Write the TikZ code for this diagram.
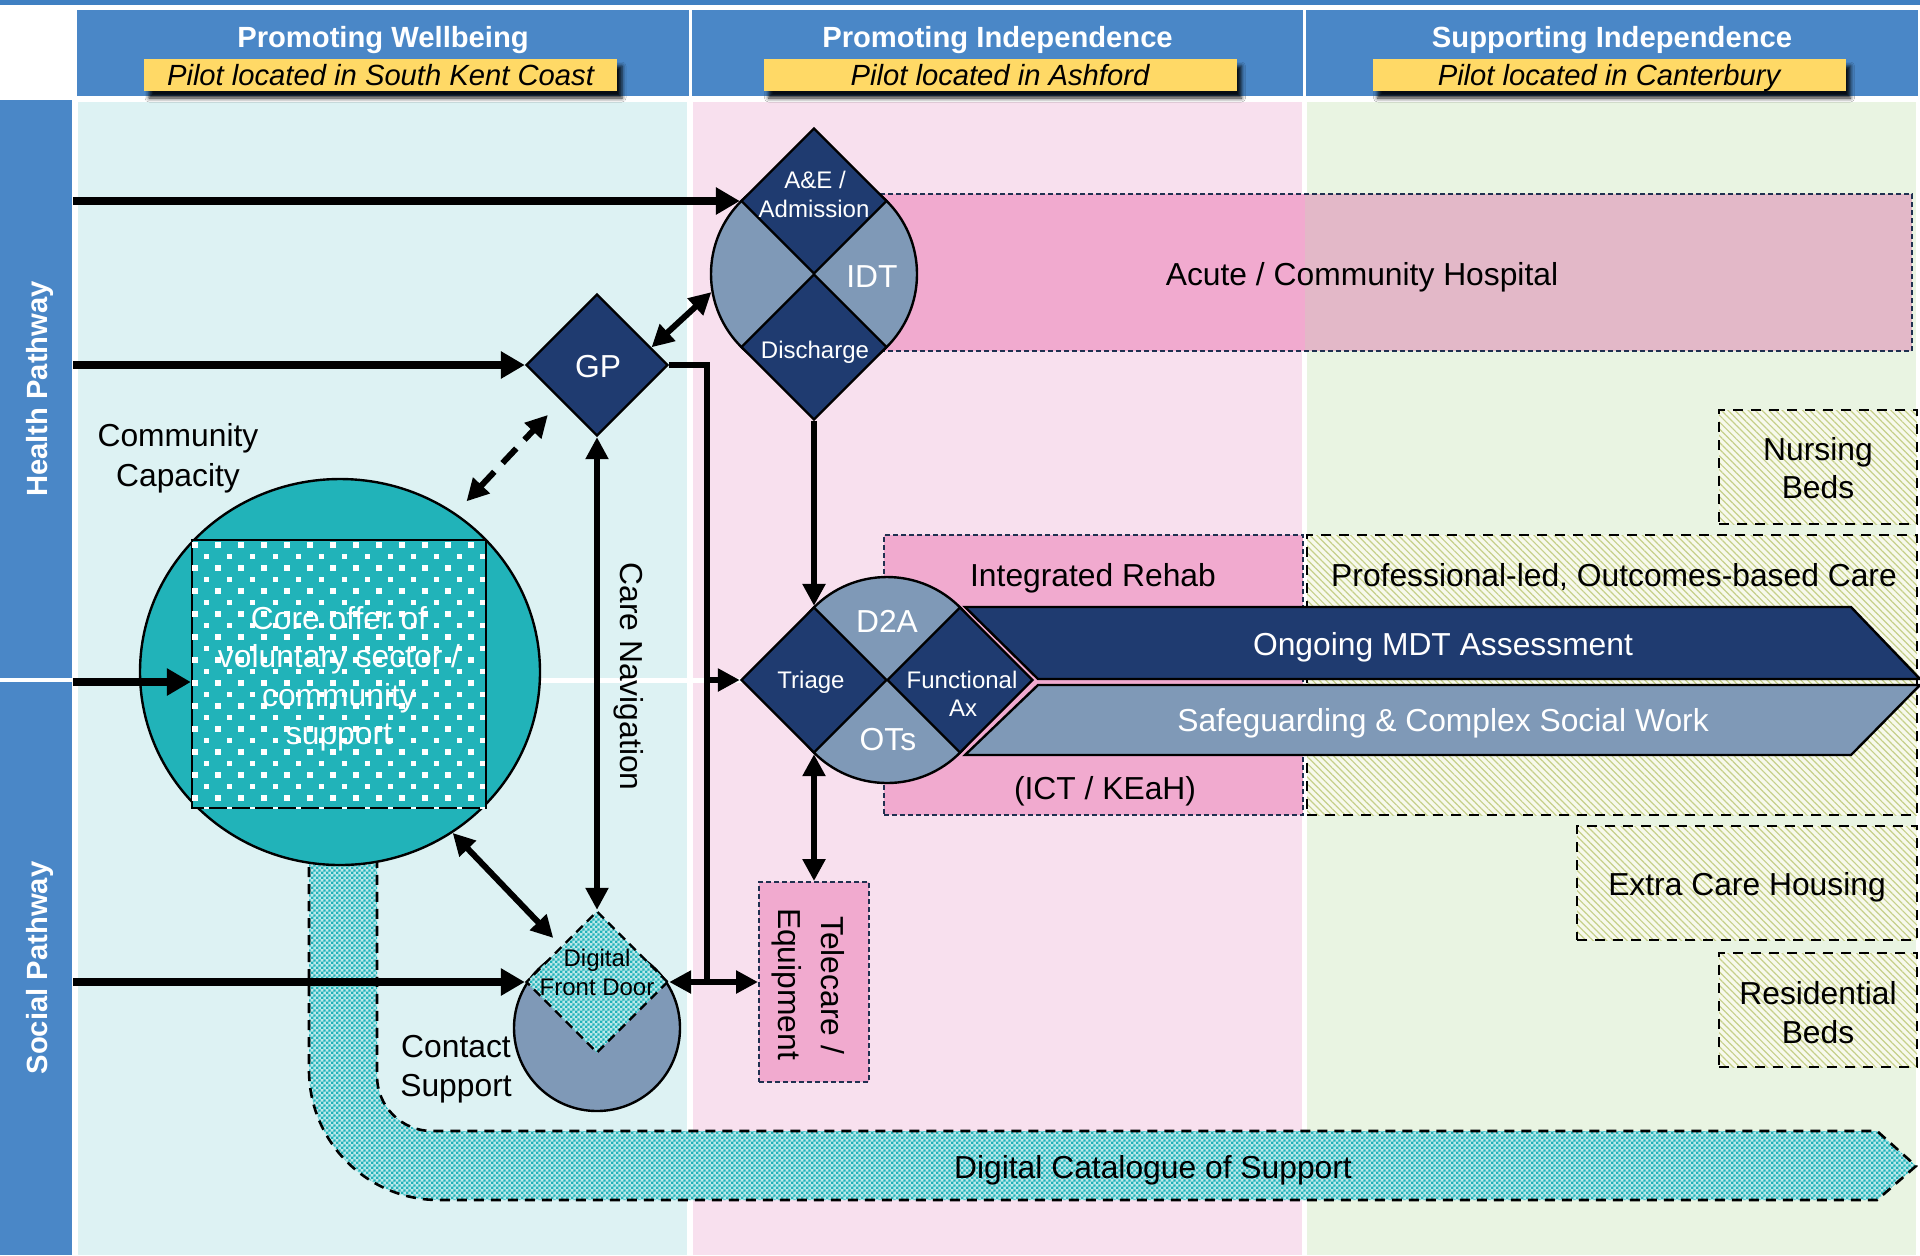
\documentclass[tikz,border=0pt]{standalone}
\usepackage{fontspec}
\setmainfont{Liberation Sans}
\usetikzlibrary{arrows.meta,patterns.meta,shadows.blur,shapes.geometric}

\definecolor{hdrblue}{HTML}{4A87C7}
\definecolor{topblue}{HTML}{3F80C2}
\definecolor{ylw}{HTML}{FFD966}
\definecolor{bgcyan}{HTML}{DDF2F3}
\definecolor{bgpink}{HTML}{F8E0EE}
\definecolor{bggreen}{HTML}{E9F4E2}
\definecolor{navy}{HTML}{1F3B70}
\definecolor{greyblue}{HTML}{7F99B7}
\definecolor{tealc}{HTML}{21B3B9}
\definecolor{pinkbox}{HTML}{F1AACF}
\definecolor{pinkgrey}{HTML}{E3B8C8}
\definecolor{hatchc}{HTML}{C6D08A}
\definecolor{hatchbg}{HTML}{F7F9EC}
\definecolor{dashnavy}{HTML}{1F3050}

\pgfdeclarepattern{
  name=finecheck,
  type=uncolored,
  bottom left={\pgfpoint{0pt}{0pt}},
  top right={\pgfpoint{2.6pt}{2.6pt}},
  tile size={\pgfpoint{2.6pt}{2.6pt}},
  code={
    \pgfpathrectangle{\pgfpoint{0pt}{0pt}}{\pgfpoint{1.3pt}{1.3pt}}
    \pgfpathrectangle{\pgfpoint{1.3pt}{1.3pt}}{\pgfpoint{1.3pt}{1.3pt}}
    \pgfusepath{fill}
  }
}

\begin{document}
\begin{tikzpicture}[x=0.5pt,y=-0.5pt,
  bigtxt/.style={font=\fontsize{15.9}{19}\selectfont, inner sep=0pt, text height=11.4pt, text depth=0pt},
  smalltxt/.style={font=\fontsize{12}{14}\selectfont, inner sep=0pt, text height=8.6pt, text depth=0pt},
  ttltxt/.style={font=\fontsize{14.6}{17}\selectfont\bfseries, text=white, inner sep=0pt, text height=10.45pt, text depth=0pt},
  pathtxt/.style={font=\fontsize{14.6}{17}\selectfont\bfseries, text=white, inner sep=0pt, text height=10.45pt, text depth=0pt, rotate=90},
  hdrbox/.style={fill=hdrblue, inner sep=0pt, minimum height=43pt},
  pilot/.style={fill=ylw, inner sep=0pt, minimum height=16pt, minimum width=236.5pt,
     text height=10.45pt, text depth=0pt,
     blur shadow={shadow xshift=2.5pt, shadow yshift=-3.5pt, shadow blur radius=2pt, shadow opacity=90},
     font=\fontsize{14.6}{17}\selectfont\itshape},
  dia/.style={diamond, aspect=1, inner sep=0pt, minimum width=#1, minimum height=#1, draw=black, line width=1.2pt},
  roundpart/.style={circle, inner sep=0pt, draw=black, line width=1.2pt, fill=greyblue},
  pinkdash/.style={fill=pinkbox, draw=dashnavy, line width=1pt, dash pattern=on 2.5pt off 1.5pt, inner sep=0pt},
  hatchbox/.style={preaction={fill=hatchbg}, pattern={Lines[angle=-45,distance=2.4pt,line width=0.6pt]}, pattern color=hatchc,
     draw=black, line width=1.4pt, dash pattern=on 5pt off 4pt, inner sep=0pt},
  checkfill/.style={preaction={fill=tealc!30!white}, pattern=finecheck, pattern color=tealc},
  thickarrow/.style={line width=4pt, -{Triangle[length=12pt,width=13pt]}},
  medline/.style={line width=3pt},
  medarrow/.style={line width=3pt, -{Triangle[length=11pt,width=11pt]}},
  dblarrow/.style={line width=3pt, {Triangle[length=11pt,width=11pt]}-{Triangle[length=11pt,width=11pt]}},
]
\useasboundingbox (0,0) rectangle (1920,1255);

% ---------- backgrounds ----------
\fill[white] (0,0) rectangle (1920,1255);
\fill[topblue] (0,0) rectangle (1920,5);
\fill[bgcyan] (78,102) rectangle (687,678);
\fill[bgcyan] (78,683) rectangle (687,1255);
\fill[bgpink] (693,102) rectangle (1302,678);
\fill[bgpink] (693,683) rectangle (1302,1255);
\fill[bggreen] (1307,102) rectangle (1916,678);
\fill[bggreen] (1307,683) rectangle (1916,1255);

% ---------- side bars ----------
\node[fill=hdrblue, inner sep=0pt, minimum width=36pt, minimum height=289pt] (hbar) at (36,389) {};
\node[fill=hdrblue, inner sep=0pt, minimum width=36pt, minimum height=286.5pt] (sbar) at (36,968.5) {};
\node[pathtxt] (htxt) at (37.5,389) {Health Pathway};
\node[pathtxt] (stxt) at (37.5,968) {Social Pathway};

% ---------- headers ----------
\node[hdrbox, minimum width=306pt] (hdr1) at (383,53) {};
\node[hdrbox, minimum width=305.5pt] (hdr2) at (997.5,53) {};
\node[hdrbox, minimum width=306pt] (hdr3) at (1612,53) {};
\node[ttltxt] (ttl1) at (383,37) {Promoting Wellbeing};
\node[ttltxt] (ttl2) at (997.5,37) {Promoting Independence};
\node[ttltxt] (ttl3) at (1612,37) {Supporting Independence};
\node[pilot] (pil1) at (380.5,75) {Pilot located in South Kent Coast};
\node[pilot] (pil2) at (1000,75) {Pilot located in Ashford};
\node[pilot] (pil3) at (1609,75) {Pilot located in Canterbury};

% ---------- digital catalogue arrow ----------
\path[checkfill, draw=black, line width=1.3pt, dash pattern=on 5pt off 3.5pt]
  (309,850) -- (309,1070) arc[start angle=180, end angle=90, radius=130]
  -- (1877,1200) -- (1916,1166) -- (1877,1131) -- (432,1131)
  arc[start angle=90, end angle=180, radius=55] -- (377,850) -- cycle;
\node[bigtxt] (cattxt) at (1153,1167) {Digital Catalogue of Support};

% ---------- acute / community hospital ----------
\fill[pinkbox] (760,194) rectangle (1305,351);
\fill[pinkgrey] (1305,194) rectangle (1912,351);
\node[draw=dashnavy, line width=1pt, dash pattern=on 2.5pt off 1.5pt, inner sep=0pt,
      minimum width=576pt, minimum height=78.5pt] (acute) at (1336,272.5) {};
\node[bigtxt] (acutetxt) at (1362,274) {Acute / Community Hospital};

% ---------- right-hand boxes ----------
\node[hatchbox, minimum width=99pt, minimum height=57pt] (nurs) at (1818,467) {};
\node[bigtxt] (nurs1) at (1818,449) {Nursing};
\node[bigtxt] (nurs2) at (1818,487) {Beds};
\node[pinkdash, minimum width=209.5pt, minimum height=140pt] (rehab) at (1093.5,675) {};
\node[hatchbox, minimum width=305pt, minimum height=140pt] (prof) at (1612,675) {};
\node[bigtxt] (rehab1) at (1093,575) {Integrated Rehab};
\node[bigtxt] (rehab2) at (1105,788) {(ICT / KEaH)};
\node[bigtxt] (proftxt) at (1614,575) {Professional-led, Outcomes-based Care};
\node[hatchbox, minimum width=170pt, minimum height=57pt] (extra) at (1747,883) {};
\node[bigtxt] (extratxt) at (1747,884) {Extra Care Housing};
\node[hatchbox, minimum width=99pt, minimum height=57pt] (resid) at (1818,1010) {};
\node[bigtxt] (resid1) at (1818,993) {Residential};
\node[bigtxt] (resid2) at (1818,1032) {Beds};
\node[pinkdash, minimum width=55pt, minimum height=100pt] (tel) at (814,982) {};
\node[bigtxt, rotate=-90] (tel1) at (833,985) {Telecare /};
\node[bigtxt, rotate=-90] (tel2) at (790,984) {Equipment};

% ---------- community capacity ----------
\node[ellipse, draw=black, line width=1.2pt, fill=tealc, inner sep=0pt,
      minimum width=200pt, minimum height=193pt] (comm) at (340,672) {};
\node[draw=black, line width=1.2pt, fill=tealc, inner sep=0pt,
      minimum width=147pt, minimum height=134pt] (core) at (339,674) {};
\begin{scope}
  \clip (192,540) rectangle (486,808);
  \foreach \i in {0,...,13} {
    \foreach \j in {0,...,11} {
      \fill[white] ({192.3+23*\i},{542.3+23*\j}) rectangle +(5.4,5.4);
      \fill[white] ({203.8+23*\i},{553.8+23*\j}) rectangle +(5.4,5.4);
    }
  }
\end{scope}
\node[bigtxt, text=white] (core1) at (339,618) {Core offer of};
\node[bigtxt, text=white] (core2) at (339,656) {voluntary sector /};
\node[bigtxt, text=white] (core3) at (339,695) {community};
\node[bigtxt, text=white] (core4) at (339,733) {support};
\node[bigtxt] (cc1) at (178,435) {Community};
\node[bigtxt] (cc2) at (178,475) {Capacity};

% ---------- A&E / IDT / Discharge ----------
\node[roundpart, minimum size=103pt] (idtc) at (814,274) {};
\node[dia=73pt, fill=navy] (ae) at (814,201) {};
\node[dia=73pt, fill=navy] (dis) at (814,347) {};
\node[smalltxt, text=white] (ae1) at (815,180) {A\&E /};
\node[smalltxt, text=white] (ae2) at (814,209) {Admission};
\node[bigtxt, text=white] (idt) at (872,276) {IDT};
\node[smalltxt, text=white] (dis1) at (815,350) {Discharge};

% ---------- GP ----------
\node[dia=71pt, fill=navy] (gp) at (597,365) {};
\node[bigtxt, text=white] (gptxt) at (598,366) {GP};

% ---------- chevrons ----------
\path[draw=black, line width=1.2pt, fill=navy]
  (965,607) -- (1851,607) -- (1920,679) -- (1038,679) -- cycle;
\path[draw=black, line width=1.2pt, fill=greyblue]
  (1038,685) -- (1920,685) -- (1851,755) -- (965,755) -- cycle;
\node[bigtxt, text=white] (mdt) at (1443,644) {Ongoing MDT Assessment};
\node[bigtxt, text=white] (safe) at (1443,720) {Safeguarding \& Complex Social Work};

% ---------- triage composite ----------
\node[roundpart, minimum size=103pt] (t2c) at (887,680) {};
\node[dia=73pt, fill=navy] (tri) at (814,680) {};
\node[dia=73pt, fill=navy] (fax) at (960,680) {};
\node[bigtxt, text=white] (d2a) at (887,621) {D2A};
\node[bigtxt, text=white] (ots) at (888,739) {OTs};
\node[smalltxt, text=white] (tritxt) at (811,680) {Triage};
\node[smalltxt, text=white] (fax1) at (962,680) {Functional};
\node[smalltxt, text=white] (fax2) at (963,708) {Ax};

% ---------- digital front door ----------
\node[roundpart, minimum size=83pt] (cs) at (597,1028) {};
\node[dia=71pt, checkfill, dash pattern=on 4.5pt off 3pt] (dfd) at (597,982) {};
\node[smalltxt] (dfd1) at (597,958) {Digital};
\node[smalltxt] (dfd2) at (597,987) {Front Door};
\node[bigtxt] (cs1) at (456,1046) {Contact};
\node[bigtxt] (cs2) at (456,1085) {Support};

% ---------- connectors ----------
\coordinate (hp1) at (73,201);
\coordinate (hp2) at (73,365);
\coordinate (sp1) at (73,682);
\coordinate (sp2) at (73,982);
\coordinate (jtop) at (707,365);
\coordinate (jtri) at (707,680);
\coordinate (jbot) at (707,982);

\draw[thickarrow] (hp1) -- (ae.west);
\draw[thickarrow] (hp2) -- (gp.west);
\draw[thickarrow] (sp1) -- (sp1 -| core.west);
\draw[thickarrow] (sp2) -- (dfd.west);

\draw[medline] (gp.east) -- (jtop) -- (jbot);
\draw[medarrow] (jtri) -- (tri.west);
\draw[dblarrow] (dfd.east) -- (tel.west);
\draw[medarrow] (dis.south) -- (tri.north);
\draw[dblarrow] (tri.south) -- (tel.north);
\draw[dblarrow, line width=2.6pt] (gp.south) -- (dfd.north);
\draw[dblarrow] (gp.18) -- (idtc.190);
\draw[dblarrow, dash pattern=on 10pt off 6pt, shorten <=8pt, shorten >=9.5pt] (comm.54) -- (gp.225);
\draw[dblarrow, shorten >=5.5pt] (comm.-55) -- (dfd.135);

\node[bigtxt, rotate=-90] (carenav) at (631.5,676.5) {Care Navigation};

\end{tikzpicture}
\end{document}
